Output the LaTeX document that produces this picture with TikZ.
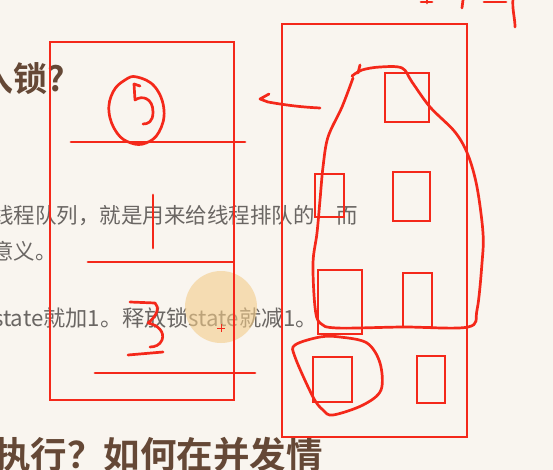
\documentclass[tikz,border=0pt]{standalone}
\usepackage{fontspec}
\newfontfamily\cjk{Noto Sans CJK SC}[BoldFont={Noto Sans CJK SC Bold}]
\definecolor{bg}{HTML}{F9F5EF}
\definecolor{ink}{HTML}{F4281A}
\definecolor{headc}{HTML}{654836}
\definecolor{bodyc}{HTML}{6A6663}
\definecolor{glow}{HTML}{F3CC8A}
\begin{document}
\begin{tikzpicture}[x=1pt,y=-1pt,
  pen/.style={draw=ink,line width=2.7pt,line cap=round,line join=round},
  box/.style={draw=ink,line width=2.4pt},
  txt/.style={inner sep=0pt,anchor=base west,font=\cjk\fontsize{21.5}{21.5}\selectfont,text=bodyc},
  hd/.style={inner sep=0pt,anchor=base west,font=\cjk\bfseries\fontsize{36.5}{36.5}\selectfont,text=headc}]
\fill[bg] (0,0) rectangle (553,470);
\useasboundingbox (0,0) rectangle (553,470);
\clip (0,0) rectangle (553,470);
% slide text
\node[hd,font=\cjk\bfseries\fontsize{34}{34}\selectfont] (h1) at (-21,91.5) {入锁?};
\node[txt] (l1) at (-8,223) {线程队列，就是用来给线程排队的};
\node[txt] (l1b) at (336,223) {而};
\node[txt] (l2) at (-8,259) {意义。};
\node[txt,font=\cjk\fontsize{22.2}{22.2}\selectfont] (l3) at (-7,326) {state就加1。释放锁state就减1。};
\node[hd] (h2) at (-6,468.5) {执行？如何在并发情};
% cursor highlight
\fill[glow,opacity=0.6] (221,307) circle (36);
\draw[ink,line width=1pt] (217,328) -- (225,328) (221,324) -- (221,332);
% left stack
\draw[box] (50,42) rectangle (234,400);
\draw[pen] (71,142) -- (245,142);
\draw[pen] (88,262) -- (233,262);
\draw[pen] (95,373) -- (255,373);
\draw[pen] plot[smooth cycle,tension=0.7] coordinates {(137,77) (155,87) (164,110) (159,132) (146,143) (131,143) (117,133) (109,112) (113,92) (125,80)};
\draw[pen] (134,84) -- (140,86);
\draw[pen] (134,84) -- (135,100) .. controls (142,95) and (153,98) .. (153,112) .. controls (153,122) and (148,124) .. (143,124);
\draw[pen] (153,195) -- (153,248);
\draw[pen] (130,302) -- (155,303) .. controls (160,307) and (157,316) .. (148,323) .. controls (158,325) and (165,332) .. (162,340) .. controls (160,345) and (155,347) .. (150,347);
\draw[pen] (128,355) -- (163,352);
% arrow stroke
\draw[pen] (269,94) -- (260,99) -- (268,102) .. controls (285,105) and (300,107) .. (320,108);
% right rectangle
\draw[box] (282,24) rectangle (467,437);
\draw[box] (385,73) rectangle (429,122);
\draw[box] (393,172) rectangle (430,221);
\draw[box] (315,174) rectangle (344,217);
\draw[box] (318,270) rectangle (362,334);
\draw[box] (403,273) rectangle (432,327);
\draw[box] (313,357) rectangle (352,402);
\draw[box] (417,356) rectangle (445,403);
% big blob
\draw[pen] plot[smooth,tension=0.55] coordinates {(352,76) (362,70) (380,67) (402,68) (412,82) (430,107) (455,132) (468,155) (477,187) (483,233) (482,263) (477,310) (468,327) (403,327) (337,328) (320,323) (315,307) (313,263) (317,233) (320,200) (323,167) (328,137) (342,107) (353,78)};
\draw[pen] (360,65) -- (358,73);
% small blob
\draw[pen] plot[smooth cycle,tension=0.55] coordinates {(340,337) (367,343) (380,363) (381,390) (363,405) (333,415) (323,410) (313,397) (295,357) (295,345) (320,337)};
% top-right marks
\draw[pen] (421,2) -- (432,2);
\draw[pen] (427,0) -- (427,3);
\draw[pen] (463,0) -- (462,8);
\draw[pen] (484,2) -- (506,2);
\draw[pen] (513,-2) .. controls (512,10) and (515,18) .. (515,27);
\end{tikzpicture}
\end{document}
